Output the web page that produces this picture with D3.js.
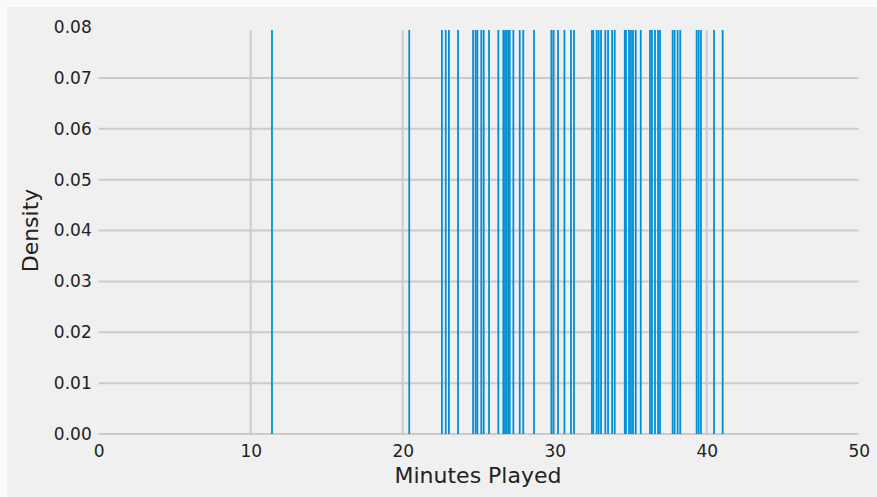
<!DOCTYPE html>
<html>
<head>
<meta charset="utf-8">
<script src="https://cdn.jsdelivr.net/npm/d3@7"></script>
<style>
  body { margin: 0; background: #ffffff; }
  svg { display: block; }
  text { font-family: "DejaVu Sans", sans-serif; }
</style>
</head>
<body>
<div id="chart"></div>
<script>
// minutes played per game (rug marks)
const minutes = [
  11.40, 20.43,
  22.58, 22.83, 23.04, 23.64, 24.63, 24.80, 24.91, 25.17, 25.33, 25.68,
  26.29, 26.62, 26.73, 26.84, 26.95, 27.04, 27.28, 27.70, 27.93, 28.64,
  29.78, 29.91, 30.22, 30.64, 31.07, 31.27,
  32.45, 32.54, 32.76, 32.89, 33.05, 33.33, 33.51, 33.78, 33.95,
  34.61, 34.69, 34.89, 35.02, 35.15, 35.33, 35.66,
  36.27, 36.40, 36.60, 36.80, 36.93, 37.76, 37.89, 38.09, 38.26,
  39.34, 39.47, 39.62, 40.48, 41.05
];
const xTicks = [0, 10, 20, 30, 40, 50];
const yTicks = [0, 0.01, 0.02, 0.03, 0.04, 0.05, 0.06, 0.07, 0.08];
const RUG_TOP = 0.0794;

const W = 877, H = 497;
const BG = "#f0f0f0", GRID = "#cbcbcb", BLUE = "#008fd5";
const FONT = "DejaVu Sans, sans-serif";

const svg = d3.select("#chart").append("svg")
  .attr("width", W).attr("height", H)
  .attr("font-family", FONT);

svg.append("rect").attr("width", W).attr("height", H).attr("fill", "#fafafa");
svg.append("rect").attr("x", 7).attr("y", 7)
  .attr("width", W - 7).attr("height", H - 7).attr("fill", BG);

const x = d3.scaleLinear().domain([0, 50]).range([98.7, 858.7]);
const y = d3.scaleLinear().domain([0, 0.08]).range([434, 27]);

// horizontal grid
svg.append("g").selectAll("line")
  .data(yTicks.slice(0, -1))
  .join("line")
  .attr("x1", x(0)).attr("x2", x(50))
  .attr("y1", d => y(d)).attr("y2", d => y(d))
  .attr("stroke", GRID).attr("stroke-width", 2);

// vertical grid
svg.append("g").selectAll("line")
  .data(xTicks.slice(1, -1))
  .join("line")
  .attr("x1", d => x(d)).attr("x2", d => x(d))
  .attr("y1", y(0)).attr("y2", y(RUG_TOP))
  .attr("stroke", GRID).attr("stroke-width", 2);

// rug
svg.append("g").selectAll("line")
  .data(minutes)
  .join("line")
  .attr("x1", d => x(d)).attr("x2", d => x(d))
  .attr("y1", y(0)).attr("y2", y(RUG_TOP))
  .attr("stroke", BLUE).attr("stroke-width", 1.8);

// axes
const xAxis = d3.axisBottom(x).tickValues(xTicks).tickSize(0).tickPadding(8)
  .tickFormat(d3.format("d"));
const gx = svg.append("g").attr("transform", `translate(0,${y(0) + 3})`).call(xAxis)
  .attr("font-family", FONT);
gx.select(".domain").remove();
gx.selectAll("text").attr("font-size", 17).attr("fill", "#222");

const yAxis = d3.axisLeft(y).tickValues(yTicks).tickSize(0).tickPadding(7)
  .tickFormat(d3.format(".2f"));
const gy = svg.append("g").attr("transform", `translate(${x(0)},0)`).call(yAxis)
  .attr("font-family", FONT);
gy.select(".domain").remove();
gy.selectAll("text").attr("font-size", 17).attr("fill", "#222");

svg.append("text")
  .attr("x", 478).attr("y", 483)
  .attr("text-anchor", "middle")
  .attr("font-size", 22).attr("fill", "#222")
  .text("Minutes Played");

svg.append("text")
  .attr("transform", `translate(38,${y(0.04)}) rotate(-90)`)
  .attr("text-anchor", "middle")
  .attr("font-size", 22).attr("fill", "#222")
  .text("Density");
</script>
</body>
</html>
